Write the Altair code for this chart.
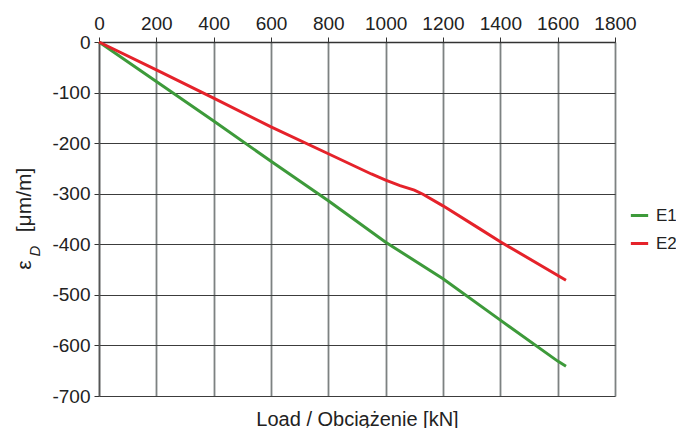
import altair as alt
import pandas as pd

# Data
load_e1 = [0, 200, 400, 600, 800, 1000, 1200, 1400, 1600, 1629]
strain_e1 = [0, -78, -156, -236, -314, -396, -468, -550, -631, -641]

load_e2 = [0, 200, 400, 600, 800, 950, 1000, 1050, 1100, 1130, 1200, 1330, 1400, 1629]
strain_e2 = [0, -55, -111, -168, -221, -261, -273, -284, -293, -301, -324, -370, -395, -471]

series = ["E1", "E2"]
colors = ["#3d9a3a", "#e5222a"]
x_ticks = list(range(0, 1801, 200))
y_ticks = list(range(-700, 1, 100))

W, H = 516, 354
FONT = "Liberation Sans"

df = pd.concat([
    pd.DataFrame({"load": load_e1, "strain": strain_e1, "series": "E1"}),
    pd.DataFrame({"load": load_e2, "strain": strain_e2, "series": "E2"}),
])

x_enc = alt.X(
    "load:Q",
    scale=alt.Scale(domain=[0, 1800], nice=False, zero=False),
    axis=alt.Axis(
        orient="top", values=x_ticks, title="Load / Obciążenie [kN]",
        labelExpr="datum.value + ''", labelOverlap=False, labelFlush=False,
        titleY=H + 29, titleBaseline="alphabetic", titleFont=FONT,
        titleFontSize=20, titleFontWeight="normal", titleColor="#222222",
        labelFont=FONT, labelFontSize=19, labelColor="#222222", labelPadding=4,
        tickSize=5, tickColor="#333333", domainColor="#333333", domainWidth=1.5,
        grid=True, gridColor="#7d8282", gridWidth=1.8,
    ),
)
y_enc = alt.Y(
    "strain:Q",
    scale=alt.Scale(domain=[-700, 0], nice=False, zero=False),
    axis=alt.Axis(
        values=y_ticks, title="", labelExpr="datum.value + ''",
        labelOverlap=False, labelFlush=False,
        labelFont=FONT, labelFontSize=19,
        labelColor="#222222", labelPadding=4, tickSize=5, tickColor="#333333",
        domainColor="#555555", domainWidth=1.5,
        grid=True, gridColor="#3c3c3c", gridWidth=1.2,
    ),
)

lines = alt.Chart(df).mark_line(strokeWidth=3, clip=False).encode(
    x=x_enc,
    y=y_enc,
    color=alt.Color(
        "series:N",
        scale=alt.Scale(domain=series, range=colors),
        legend=alt.Legend(
            title=None, orient="none", legendX=530, legendY=163,
            symbolType="stroke", symbolStrokeWidth=3, symbolSize=300,
            labelFont=FONT, labelFontSize=17, labelColor="#222222",
            rowPadding=9, labelOffset=6,
        ),
    ),
)

eps = alt.Chart(pd.DataFrame({"t": ["ε"]})).mark_text(
    font=FONT, fontSize=21, angle=270, align="center", baseline="middle", color="#222222"
).encode(text="t:N", x=alt.value(-74), y=alt.value(223))

sub = alt.Chart(pd.DataFrame({"t": ["D"]})).mark_text(
    font=FONT, fontSize=15, fontStyle="italic", angle=270, align="center",
    baseline="middle", color="#222222"
).encode(text="t:N", x=alt.value(-64), y=alt.value(209))

unit = alt.Chart(pd.DataFrame({"t": ["[μm/m]"]})).mark_text(
    font=FONT, fontSize=21, angle=270, align="center", baseline="middle", color="#222222"
).encode(text="t:N", x=alt.value(-74), y=alt.value(158))

chart = alt.layer(lines, eps, sub, unit).properties(
    width=W, height=H,
    autosize=alt.AutoSizeParams(type="none"),
    padding={"left": 99, "top": 42, "right": 676 - 99 - W, "bottom": 428 - 42 - H},
).configure_view(stroke=None).configure(background="white")

chart.save("out.html", embed_options={"renderer": "svg", "actions": False})
